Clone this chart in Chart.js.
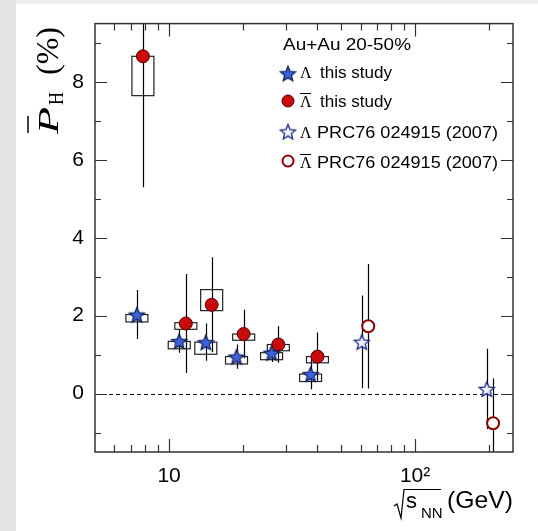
<!DOCTYPE html>
<html>
<head>
<meta charset="utf-8">
<script src="https://cdn.jsdelivr.net/npm/chart.js@4.4.0/dist/chart.umd.min.js"></script>
<style>
html, body { margin: 0; padding: 0; background: #fff; }
canvas { display: block; }
</style>
</head>
<body>
<canvas id="chartPolarization" width="538" height="531"></canvas>
<script>
// Lambda, this study
const lamX = [7.4, 11.0, 14.1, 18.8, 26.1, 37.6];
const lamY = [2.03, 1.35, 1.32, 0.95, 1.05, 0.50];
const lamErr = [0.63, 0.30, 0.48, 0.31, 0.24, 0.39];
const lamSysLo = [1.84, 1.15, 1.01, 0.76, 0.87, 0.31];
const lamSysHi = [2.03, 1.34, 1.32, 0.95, 1.05, 0.50];

// anti-Lambda, this study
const alamX = [7.83, 11.7, 14.9, 20.1, 27.8, 40.1];
const alamY = [8.66, 1.80, 2.28, 1.53, 1.26, 0.95];
const alamErr = [3.36, 1.27, 1.22, 0.62, 0.47, 0.62];
const alamSysLo = [7.65, 1.65, 2.13, 1.37, 1.10, 0.79];
const alamSysHi = [8.66, 1.82, 2.67, 1.53, 1.26, 0.95];

// PRC76 024915 (2007)
const prcLamX = [60.7, 195.5];
const prcLamY = [1.33, 0.12];
const prcLamErr = [1.19, 1.03];
const prcAlamX = [64.5, 207.5];
const prcAlamY = [1.73, -0.76];
const prcAlamErr = [1.6, 1.15];

// axis ticks
const xMajor = [10, 100];
const xMinor = [6, 7, 8, 9, 20, 30, 40, 50, 60, 70, 80, 90, 200];
const yTicks = [-1, 0, 1, 2, 3, 4, 5, 6, 7, 8, 9];

const boxHalf = 11;
const sans = 'Liberation Sans, Arial, sans-serif';
const serif = 'Liberation Serif, Times New Roman, serif';

function makeStar(fill, stroke, R) {
    var s = Math.ceil(2 * R + 4);
    var c = document.createElement('canvas');
    c.width = s; c.height = s;
    var g = c.getContext('2d');
    g.beginPath();
    for (var i = 0; i < 10; i++) {
        var r = i % 2 ? R * 0.45 : R;
        var a = -Math.PI / 2 + i * Math.PI / 5;
        g.lineTo(s / 2 + r * Math.cos(a), s / 2 + 1 + r * Math.sin(a));
    }
    g.closePath();
    g.fillStyle = fill;
    g.fill();
    g.lineWidth = 1.3;
    g.strokeStyle = stroke;
    g.stroke();
    return c;
}

const starFilled = makeStar('#3d63dc', '#142060', 8);
const starOpen = makeStar('#eef3ff', '#1a2a80', 8);

function pts(xs, ys) {
    return xs.map(function (x, i) { return {x: x, y: ys[i]}; });
}

function fitText(c, str, x, y, font, width) {
    c.save();
    c.font = font;
    var w = c.measureText(str).width;
    var k = width ? width / w : 1;
    c.translate(x, y);
    c.scale(k, 1);
    c.fillText(str, 0, 0);
    c.restore();
    return w * k;
}

const decorPlugin = {
    id: 'decor',
    beforeDraw(chart) {
        const c = chart.ctx;
        c.save();
        c.fillStyle = '#fff';
        c.fillRect(0, 0, chart.width, chart.height);
        c.fillStyle = '#e4e4e4';
        c.fillRect(0, 0, 16, chart.height);
        c.fillStyle = '#f0f0f0';
        c.fillRect(16, 0, chart.width - 16, 4);
        c.restore();
    },
    beforeDatasetsDraw(chart) {
        const c = chart.ctx, a = chart.chartArea, sx = chart.scales.x, sy = chart.scales.y;
        c.save();
        c.beginPath();
        c.rect(a.left, a.top, a.right - a.left, a.bottom - a.top);
        c.clip();

        // dashed zero line
        c.setLineDash([4, 3]);
        c.strokeStyle = '#000';
        c.lineWidth = 1;
        var y0 = Math.round(sy.getPixelForValue(0)) + 0.5;
        c.beginPath(); c.moveTo(a.left, y0); c.lineTo(a.right, y0); c.stroke();
        c.setLineDash([]);

        // statistical errors
        c.lineWidth = 1.2;
        [[lamX, lamY, lamErr], [alamX, alamY, alamErr], [prcLamX, prcLamY, prcLamErr], [prcAlamX, prcAlamY, prcAlamErr]]
            .forEach(function (s) {
                s[0].forEach(function (x, i) {
                    var px = Math.round(sx.getPixelForValue(x)) + 0.5;
                    c.beginPath();
                    c.moveTo(px, sy.getPixelForValue(s[1][i] - s[2][i]));
                    c.lineTo(px, sy.getPixelForValue(s[1][i] + s[2][i]));
                    c.stroke();
                });
            });

        // systematic boxes
        c.strokeStyle = '#222';
        [[lamX, lamSysLo, lamSysHi], [alamX, alamSysLo, alamSysHi]].forEach(function (s) {
            s[0].forEach(function (x, i) {
                var px = sx.getPixelForValue(x);
                var t = sy.getPixelForValue(s[2][i]), b = sy.getPixelForValue(s[1][i]);
                c.strokeRect(px - boxHalf, t, 2 * boxHalf, b - t);
            });
        });
        c.restore();
    },
    afterDatasetsDraw(chart) {
        const c = chart.ctx, a = chart.chartArea, sx = chart.scales.x, sy = chart.scales.y;
        c.save();

        // frame
        c.strokeStyle = '#333';
        c.lineWidth = 1.5;
        c.strokeRect(a.left, a.top, a.right - a.left, a.bottom - a.top);

        // inward ticks
        c.lineWidth = 1.2;
        c.beginPath();
        yTicks.forEach(function (v) {
            var py = Math.round(sy.getPixelForValue(v)) + 0.5;
            var len = v % 2 === 0 ? 12 : 6;
            c.moveTo(a.left, py); c.lineTo(a.left + len, py);
            c.moveTo(a.right, py); c.lineTo(a.right - len, py);
        });
        xMajor.concat(xMinor).forEach(function (v) {
            var px = Math.round(sx.getPixelForValue(v)) + 0.5;
            var len = xMajor.indexOf(v) >= 0 ? 13 : 7;
            c.moveTo(px, a.bottom); c.lineTo(px, a.bottom - len);
            c.moveTo(px, a.top); c.lineTo(px, a.top + len);
        });
        c.stroke();

        // legend
        c.fillStyle = '#000';
        c.textBaseline = 'alphabetic';
        fitText(c, 'Au+Au 20-50%', 283, 50, '16px ' + sans, 128);
        var rows = [77.5, 107, 137.5, 168];
        var symY = [73.3, 101, 131.5, 161];
        c.drawImage(starFilled, 288 - starFilled.width / 2, symY[0] - starFilled.height / 2);
        c.drawImage(starOpen, 288 - starOpen.width / 2, symY[2] - starOpen.height / 2);
        c.beginPath(); c.arc(288, symY[1], 6, 0, 2 * Math.PI);
        c.fillStyle = '#c80a0a'; c.fill();
        c.lineWidth = 1; c.strokeStyle = '#500'; c.stroke();
        c.beginPath(); c.arc(288, symY[3], 5.5, 0, 2 * Math.PI);
        c.fillStyle = '#fff'; c.fill();
        c.lineWidth = 2; c.strokeStyle = '#8b0000'; c.stroke();

        c.fillStyle = '#000';
        c.font = '16px ' + serif;
        rows.forEach(function (b) { c.fillText('\u039B', 300, b); });
        c.lineWidth = 1;
        c.strokeStyle = '#000';
        [rows[1], rows[3]].forEach(function (b) {
            c.beginPath(); c.moveTo(300, b - 13.5); c.lineTo(311, b - 13.5); c.stroke();
        });
        fitText(c, 'this study', 320, rows[0], '16px ' + sans, 72);
        fitText(c, 'this study', 320, rows[1], '16px ' + sans, 72);
        fitText(c, 'PRC76 024915 (2007)', 317, rows[2], '16px ' + sans, 181);
        fitText(c, 'PRC76 024915 (2007)', 317, rows[3], '16px ' + sans, 181);

        // y title
        c.save();
        c.translate(58, 80);
        c.rotate(-Math.PI / 2);
        fitText(c, 'P', -54, 0, 'italic 30px ' + serif, 27);
        c.lineWidth = 1.5;
        c.beginPath(); c.moveTo(-53, -30); c.lineTo(-36, -30); c.stroke();
        fitText(c, 'H', -25, 5, '20px ' + serif, 13);
        fitText(c, '(%)', 5, 0, '31px ' + serif, 48);
        c.restore();

        // x title
        c.lineWidth = 1.2;
        c.beginPath();
        c.moveTo(394, 506); c.lineTo(397, 504); c.lineTo(401, 518); c.lineTo(404, 489.5); c.lineTo(441, 489.5);
        c.stroke();
        fitText(c, 's', 406, 508, '22px ' + sans);
        fitText(c, 'NN', 421, 518, '15px ' + sans);
        fitText(c, '(GeV)', 447, 508, '24px ' + sans, 66);
        c.restore();
    }
};

const chart = new Chart(document.getElementById('chartPolarization'), {
    type: 'scatter',
    data: {
        datasets: [{
            label: '\u039B this study',
            data: pts(lamX, lamY),
            pointStyle: starFilled,
            pointRadius: 8
        }, {
            label: 'anti-\u039B this study',
            data: pts(alamX, alamY),
            pointStyle: 'circle',
            pointRadius: 6.5,
            backgroundColor: '#c80a0a',
            borderColor: '#500',
            borderWidth: 1
        }, {
            label: '\u039B PRC76 024915 (2007)',
            data: pts(prcLamX, prcLamY),
            pointStyle: starOpen,
            pointRadius: 8
        }, {
            label: 'anti-\u039B PRC76 024915 (2007)',
            data: pts(prcAlamX, prcAlamY),
            pointStyle: 'circle',
            pointRadius: 6,
            backgroundColor: '#fff',
            borderColor: '#8b0000',
            borderWidth: 2
        }]
    },
    options: {
        responsive: false,
        animation: false,
        devicePixelRatio: 1,
        layout: {padding: {left: 16, top: 11, right: 25, bottom: 0}},
        plugins: {legend: {display: false}, tooltip: {enabled: false}},
        scales: {
            x: {
                type: 'logarithmic',
                min: 5,
                max: 250,
                grid: {display: false, drawTicks: false},
                border: {display: false},
                afterBuildTicks: function (s) { s.ticks = xMajor.map(function (v) { return {value: v}; }); },
                afterFit: function (s) { s.height = 79; },
                ticks: {
                    autoSkip: false,
                    maxRotation: 0,
                    padding: 12,
                    color: '#000',
                    font: {family: sans, size: 21},
                    callback: function (v) { return v === 100 ? '10\u00B2' : String(v); }
                }
            },
            y: {
                min: -1.5,
                max: 9.5,
                grid: {display: false, drawTicks: false},
                border: {display: false},
                afterBuildTicks: function (s) {
                    s.ticks = yTicks.filter(function (v) { return v % 2 === 0; }).map(function (v) { return {value: v}; });
                },
                afterFit: function (s) { s.width = 79; },
                ticks: {
                    padding: 11,
                    color: '#000',
                    font: {family: sans, size: 21},
                    callback: function (v) { return String(v); }
                }
            }
        }
    },
    plugins: [decorPlugin]
});
</script>
</body>
</html>
